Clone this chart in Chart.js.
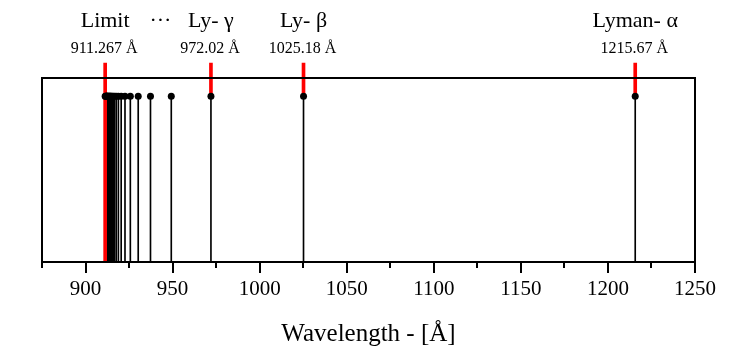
<!DOCTYPE html>
<html>
<head>
<meta charset="utf-8">
<script src="https://cdn.jsdelivr.net/npm/chart.js@4.4.1/dist/chart.umd.min.js"></script>
<style>
  html, body { margin: 0; padding: 0; background: #fff; }
  #wrap { width: 739px; height: 358px; }
</style>
</head>
<body>
<div id="wrap"><canvas id="lymanChart" width="739" height="358"></canvas></div>
<script>
// Lyman series line positions (Å), from Lyman-alpha down to the series limit
const lineWaves = [1215.67, 1025.18, 972.02, 949.24, 937.30, 930.25, 925.73, 922.66, 920.47,
  918.86, 917.64, 916.69, 915.94, 915.34, 914.84, 914.43, 914.08, 913.80, 913.55, 913.15,
  912.85, 912.62, 912.43, 912.28, 912.01, 911.84, 911.63, 911.267]
const lineHeight = 1

// labelled lines (red markers + captions)
const labelWaves = [911.267, 972.02, 1025.18, 1215.67]
const labelNames = ['Limit', 'Ly- γ', 'Ly- β', 'Lyman- α']
const labelValues = ['911.267 Å', '972.02 Å', '1025.18 Å', '1215.67 Å']
const markerFrom = [0, 1, 1, 1]
const markerTo = 1.2
const ellipsisWave = 943

const xMin = 875
const xMax = 1250
const xStep = 25
const xLabelStep = 50

const serif = "'Liberation Serif', 'Times New Roman', serif"

const framePlugin = {
  id: 'frame',
  afterDraw(chart) {
    const { ctx, chartArea: a, scales } = chart
    ctx.save()
    ctx.strokeStyle = '#000'
    ctx.lineWidth = 2
    ctx.strokeRect(a.left, a.top, a.right - a.left, a.bottom - a.top)
    // tick marks below the axis
    scales.x.ticks.forEach((t) => {
      const px = Math.round(scales.x.getPixelForValue(t.value))
      const len = t.value % xLabelStep === 0 ? 11 : 6
      ctx.beginPath()
      ctx.moveTo(px, a.bottom)
      ctx.lineTo(px, a.bottom + len)
      ctx.stroke()
    })
    // captions above the chart
    ctx.fillStyle = '#000'
    ctx.textAlign = 'center'
    ctx.textBaseline = 'alphabetic'
    labelWaves.forEach((w, i) => {
      const px = scales.x.getPixelForValue(w)
      ctx.font = `22px ${serif}`
      ctx.fillText(labelNames[i], px, 27)
      ctx.font = `16px ${serif}`
      ctx.fillText(labelValues[i], px - 1, 53)
    })
    ctx.font = `22px ${serif}`
    ctx.fillText('···', scales.x.getPixelForValue(ellipsisWave), 27)
    ctx.restore()
  }
}

new Chart(document.getElementById('lymanChart'), {
  type: 'bar',
  data: {
    datasets: [
      {
        type: 'scatter',
        data: lineWaves.map((w) => ({ x: w, y: lineHeight })),
        backgroundColor: '#000',
        borderColor: '#000',
        pointRadius: 3.5,
        borderWidth: 0,
        clip: false
      },
      {
        type: 'bar',
        data: labelWaves.map((w, i) => ({ x: w, y: [markerFrom[i], markerTo] })),
        backgroundColor: '#ff0000',
        barThickness: 3,
        grouped: false,
        clip: false
      },
      {
        type: 'bar',
        data: lineWaves.map((w) => ({ x: w, y: lineHeight })),
        backgroundColor: '#000',
        barThickness: 1,
        grouped: false
      }
    ]
  },
  options: {
    responsive: false,
    animation: false,
    layout: { padding: { left: 42, right: 44, top: 78, bottom: 0 } },
    plugins: {
      legend: { display: false },
      tooltip: { enabled: false }
    },
    scales: {
      x: {
        type: 'linear',
        min: xMin,
        max: xMax,
        offset: false,
        grid: { display: false, drawTicks: false },
        border: { display: false },
        ticks: {
          stepSize: xStep,
          autoSkip: false,
          maxRotation: 0,
          padding: 15,
          color: '#000',
          font: { family: serif, size: 21 },
          callback: (v) => (v % xLabelStep === 0 ? v : '')
        },
        title: {
          display: true,
          text: 'Wavelength - [Å]',
          color: '#000',
          font: { family: serif, size: 25 },
          padding: { top: 0, bottom: 9 }
        },
        afterFit: (scale) => { scale.height = 96 }
      },
      y: {
        display: false,
        min: 0,
        max: 1.11
      }
    }
  },
  plugins: [framePlugin]
})
</script>
</body>
</html>
